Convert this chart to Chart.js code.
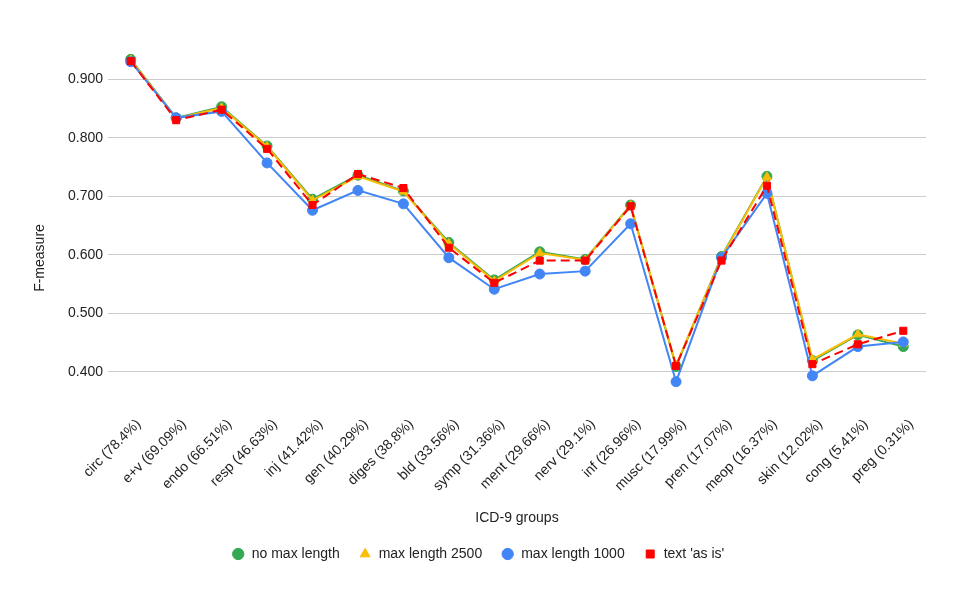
<!DOCTYPE html>
<html>
<head>
<meta charset="utf-8">
<script src="https://cdn.jsdelivr.net/npm/chart.js@4"></script>
<style>
html,body{margin:0;padding:0;background:#fff;}
#wrap{width:956px;height:591px;position:relative;}
</style>
</head>
<body>
<div id="wrap"><canvas id="c"></canvas></div>
<script>
const categories = ['circ (78.4%)','e+v (69.09%)','endo (66.51%)','resp (46.63%)','inj (41.42%)','gen (40.29%)','diges (38.8%)','bld (33.56%)','symp (31.36%)','ment (29.66%)','nerv (29.1%)','inf (26.96%)','musc (17.99%)','pren (17.07%)','meop (16.37%)','skin (12.02%)','cong (5.41%)','preg (0.31%)'];
const noMaxLength   = [0.934,0.834,0.853,0.786,0.695,0.736,0.709,0.621,0.557,0.605,0.592,0.685,0.409,0.597,0.734,0.419,0.463,0.443];
const maxLength2500 = [0.933,0.833,0.851,0.785,0.693,0.734,0.708,0.619,0.555,0.603,0.591,0.684,0.411,0.596,0.733,0.421,0.464,0.448];
const maxLength1000 = [0.930,0.834,0.845,0.757,0.676,0.710,0.687,0.595,0.541,0.567,0.572,0.653,0.383,0.595,0.705,0.393,0.443,0.451];
const textAsIs      = [0.931,0.830,0.848,0.781,0.685,0.738,0.714,0.612,0.552,0.590,0.590,0.683,0.410,0.590,0.718,0.413,0.447,0.470];
const yTicks = [0.4,0.5,0.6,0.7,0.8,0.9];
const yTitle = 'F-measure';
const xTitle = 'ICD-9 groups';

const FONT = 'Arial, "Liberation Sans", sans-serif';
const TXT = '#222222';

function ds(label, data, color, style, order, dash) {
  return {
    label, data, order,
    borderColor: color, backgroundColor: color,
    borderWidth: 2, borderDash: dash || [],
    pointStyle: style, pointRadius: 5, pointHoverRadius: 5,
    pointBorderWidth: 1, pointBorderColor: color, pointBackgroundColor: color,
    tension: 0, fill: false
  };
}

// shifts the legend block and draws the y-axis title where the reference has them
const layoutTweaks = {
  id: 'layoutTweaks',
  afterLayout(chart) {
    if (chart.legend) { chart.legend.left += 15; chart.legend.right += 15; }
  },
  afterDraw(chart) {
    const ctx = chart.ctx;
    ctx.save();
    ctx.font = '14px ' + FONT;
    ctx.fillStyle = TXT;
    ctx.textAlign = 'center';
    ctx.textBaseline = 'middle';
    ctx.translate(40, 258);
    ctx.rotate(-Math.PI / 2);
    ctx.fillText(yTitle, 0, 0);
    ctx.restore();
  }
};

new Chart(document.getElementById('c'), {
  type: 'line',
  data: {
    labels: categories,
    datasets: [
      ds('no max length', noMaxLength, '#34a853', 'circle', 4),
      ds('max length 2500', maxLength2500, '#fbbc04', 'triangle', 3),
      ds('max length 1000', maxLength1000, '#4285f4', 'circle', 2),
      ds("text 'as is'", textAsIs, '#ff0000', 'rect', 1, [9, 5])
    ]
  },
  plugins: [layoutTweaks],
  options: {
    responsive: true,
    maintainAspectRatio: false,
    animation: false,
    layout: { padding: { top: 50, right: 30, left: 0, bottom: 20 } },
    plugins: {
      tooltip: { enabled: false },
      legend: {
        position: 'bottom',
        labels: {
          usePointStyle: true,
          boxWidth: 13, boxHeight: 8,
          padding: 19,
          color: TXT,
          font: { family: FONT, size: 14 },
          sort: (a, b) => a.datasetIndex - b.datasetIndex
        }
      }
    },
    scales: {
      x: {
        type: 'category',
        offset: true,
        grid: { display: false, drawTicks: false },
        border: { display: false },
        ticks: {
          autoSkip: false, maxRotation: 45, minRotation: 45,
          padding: 15, labelOffset: 8, color: TXT, font: { family: FONT, size: 14 }
        },
        title: { display: true, text: xTitle, color: TXT, font: { family: FONT, size: 14 }, padding: { top: 4, bottom: 1 } },
        afterFit: (s) => { s.height = 127; }
      },
      y: {
        min: 0.35, max: 0.95,
        grid: { color: '#cccccc', drawTicks: false, lineWidth: 1 },
        border: { display: false },
        afterBuildTicks: (s) => { s.ticks = yTicks.map(v => ({ value: v })); },
        ticks: {
          padding: 5, color: TXT, font: { family: FONT, size: 14 },
          callback: (v) => Number(v).toFixed(3)
        },
        title: { display: false, text: yTitle },
        afterFit: (s) => { s.width = 108; }
      }
    }
  }
});
</script>
</body>
</html>
